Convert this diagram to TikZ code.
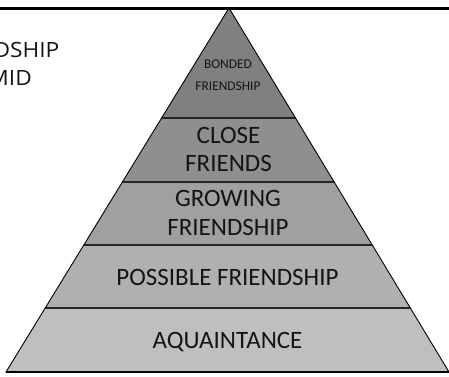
\documentclass[tikz,border=0pt]{standalone}
\usepackage{fontspec}
\setmainfont{Carlito}
\newfontfamily\titlefont{Open Sans}
\definecolor{bandA}{RGB}{128,128,128}
\definecolor{bandB}{RGB}{143,143,143}
\definecolor{bandC}{RGB}{160,160,160}
\definecolor{bandD}{RGB}{176,176,176}
\definecolor{bandE}{RGB}{191,191,191}
\definecolor{txt}{RGB}{20,20,20}
\begin{document}
\begin{tikzpicture}[x=1pt,y=-1pt,
  biglabel/.style={font=\fontsize{25}{30}\selectfont, text=txt, inner sep=0pt, anchor=base},
  smalllabel/.style={font=\fontsize{13.4}{16}\selectfont, text=txt, inner sep=0pt, anchor=base},
  titletext/.style={font=\titlefont\fontsize{21}{25}\selectfont, text=txt, inner sep=0pt, anchor=base east, xscale=1.08},
  divider/.style={draw=black!85, line width=1.2pt},
  outline/.style={draw=black, line width=0.9pt}]
\useasboundingbox (0,0) rectangle (449,376);
\clip (0,0) rectangle (449,376);
\coordinate (A) at (229,8);
\coordinate (BL) at (6,372);
\coordinate (BR) at (449,372);
\begin{scope}
  \clip (A) -- (BL) -- (BR) -- cycle;
  \fill[bandA] (0,0) rectangle (449,118);
  \fill[bandB] (0,118) rectangle (449,182);
  \fill[bandC] (0,182) rectangle (449,245);
  \fill[bandD] (0,245) rectangle (449,308);
  \fill[bandE] (0,308) rectangle (449,376);
  \draw[divider] (0,118) -- (449,118);
  \draw[divider] (0,182) -- (449,182);
  \draw[divider] (0,245) -- (449,245);
  \draw[divider] (0,308) -- (449,308);
\end{scope}
\draw[outline] (A) -- (BL) -- (BR) -- cycle;
\draw[black, line width=1.6pt] (BL) -- (BR);
\draw[black, line width=2.6pt] (0,8.5) -- (449,8.5);
% texts
\node[smalllabel] (bonded1) at (228,68.3) {BONDED};
\node[smalllabel] (bonded2) at (228,90) {FRIENDSHIP};
\node[biglabel] (close1) at (228.5,143.3) {CLOSE};
\node[biglabel] (close2) at (228.5,171.7) {FRIENDS};
\node[biglabel] (grow1) at (228,206.7) {GROWING};
\node[biglabel] (grow2) at (228,235) {FRIENDSHIP};
\node[biglabel] (poss) at (227.5,285) {POSSIBLE FRIENDSHIP};
\node[biglabel] (aqua) at (227.5,348) {AQUAINTANCE};
\node[titletext] (title1) at (59.5,57) {FRIENDSHIP};
\node[titletext] (title2) at (32,85) {PYRAMID};
\end{tikzpicture}
\end{document}
